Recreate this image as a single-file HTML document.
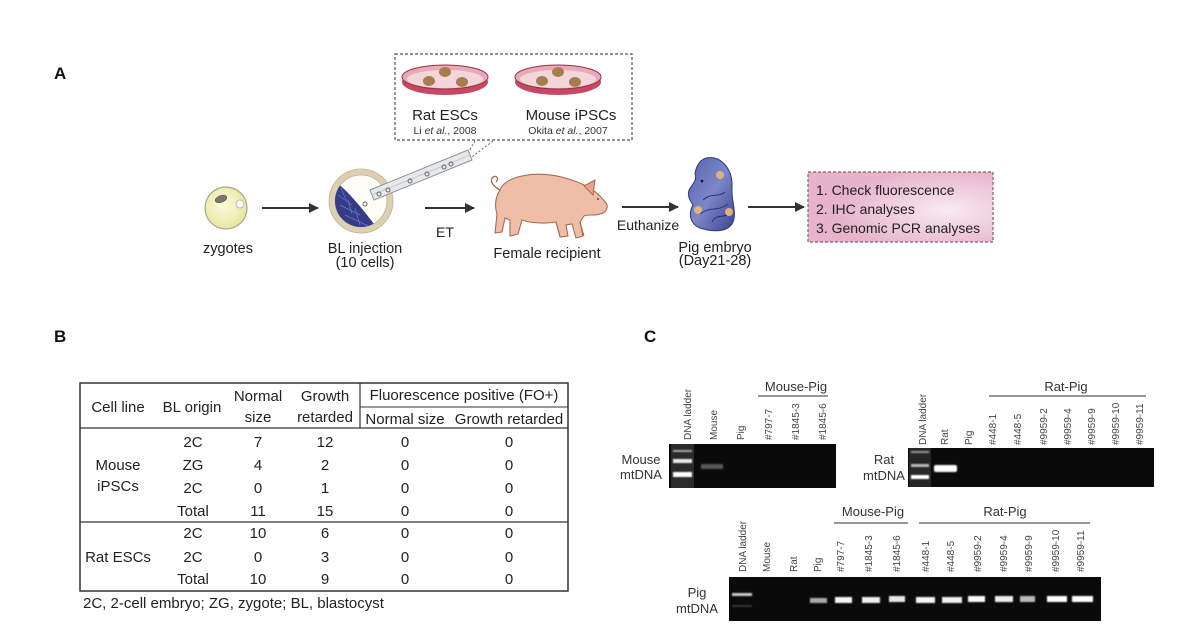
<!DOCTYPE html>
<html><head><meta charset="utf-8"><style>
html,body{margin:0;padding:0;background:#fff;}
svg{display:block;}
text{font-family:"Liberation Sans",Arial,sans-serif;}
</style></head><body>
<svg width="1200" height="625" viewBox="0 0 1200 625" xmlns="http://www.w3.org/2000/svg">
<defs>
<marker id="ah" markerWidth="10" markerHeight="10" refX="9" refY="5" orient="auto" markerUnits="userSpaceOnUse">
<path d="M0,0 L10,5 L0,10 Z" fill="#333"/></marker>
<radialGradient id="zyg" cx="45%" cy="45%" r="60%"><stop offset="0" stop-color="#fbfbdc"/><stop offset="1" stop-color="#e6e59c"/></radialGradient>
<linearGradient id="emb" x1="0" y1="0" x2="1" y2="1"><stop offset="0" stop-color="#5562b0"/><stop offset="0.5" stop-color="#7c86c8"/><stop offset="1" stop-color="#3a4590"/></linearGradient>
<radialGradient id="pink" cx="75%" cy="55%" r="60%"><stop offset="0" stop-color="#f8eaf1"/><stop offset="1" stop-color="#e6b3cb"/></radialGradient>
<filter id="bl" x="-30%" y="-80%" width="160%" height="260%"><feGaussianBlur stdDeviation="0.8"/></filter>
</defs>

<!-- Panel labels -->
<text x="54" y="79" font-size="17" font-weight="bold" fill="#111">A</text>
<text x="54" y="342" font-size="17" font-weight="bold" fill="#111">B</text>
<text x="644" y="342" font-size="17" font-weight="bold" fill="#111">C</text>

<!-- ===== Panel A ===== -->
<!-- dashed box with dishes -->
<rect x="395" y="54" width="237" height="86" fill="#fff" stroke="#555" stroke-width="1.2" stroke-dasharray="3,2"/>
<g>
<ellipse cx="445" cy="82" rx="43" ry="13" fill="#c44a64"/>
<ellipse cx="445" cy="77" rx="43" ry="12" fill="#e7aab6" stroke="#9c2e48" stroke-width="1"/>
<ellipse cx="445" cy="79" rx="38" ry="9" fill="#f2d6db"/>
<ellipse cx="429" cy="81" rx="6" ry="5" fill="#a67e4e"/>
<ellipse cx="445" cy="72" rx="6" ry="5" fill="#a67e4e"/>
<ellipse cx="462" cy="82" rx="6" ry="5" fill="#a67e4e"/>
</g>
<g>
<ellipse cx="558" cy="82" rx="43" ry="13" fill="#c44a64"/>
<ellipse cx="558" cy="77" rx="43" ry="12" fill="#e7aab6" stroke="#9c2e48" stroke-width="1"/>
<ellipse cx="558" cy="79" rx="38" ry="9" fill="#f2d6db"/>
<ellipse cx="542" cy="81" rx="6" ry="5" fill="#a67e4e"/>
<ellipse cx="558" cy="72" rx="6" ry="5" fill="#a67e4e"/>
<ellipse cx="575" cy="82" rx="6" ry="5" fill="#a67e4e"/>
</g>
<text x="445" y="120" font-size="15" text-anchor="middle" fill="#222">Rat ESCs</text>
<text x="445" y="134" font-size="10.5" text-anchor="middle" fill="#333">Li <tspan font-style="italic">et al.</tspan>, 2008</text>
<text x="571" y="120" font-size="15" text-anchor="middle" fill="#222">Mouse iPSCs</text>
<text x="568" y="134" font-size="10.5" text-anchor="middle" fill="#333">Okita <tspan font-style="italic">et al.</tspan>, 2007</text>
<line x1="475" y1="141" x2="466" y2="156" stroke="#666" stroke-width="1" stroke-dasharray="2,2"/>
<line x1="493" y1="141" x2="469" y2="159" stroke="#666" stroke-width="1" stroke-dasharray="2,2"/>

<!-- zygote -->
<circle cx="226" cy="208" r="21" fill="url(#zyg)" stroke="#a8a888" stroke-width="1.2"/>
<ellipse cx="221" cy="199" rx="6" ry="3.3" transform="rotate(-20 221 199)" fill="#7a7a6a" stroke="#555" stroke-width="0.6"/>
<circle cx="240" cy="204" r="4" fill="#fff" stroke="#aaa" stroke-width="0.8"/>
<text x="228" y="253" font-size="14.5" text-anchor="middle" fill="#222">zygotes</text>
<line x1="262" y1="208" x2="318" y2="208" stroke="#333" stroke-width="2" marker-end="url(#ah)"/>

<!-- blastocyst -->
<circle cx="361" cy="201" r="29" fill="#fdfcf6" stroke="#dccfb2" stroke-width="6"/>
<circle cx="361" cy="201" r="32" fill="none" stroke="#bfb294" stroke-width="0.8"/>
<circle cx="361" cy="201" r="26" fill="none" stroke="#bfb294" stroke-width="0.8"/>
<clipPath id="icm"><circle cx="361" cy="201" r="26"/></clipPath>
<path d="M333,180 C345,188 360,205 380,232 L330,232 Z" fill="#323c88" clip-path="url(#icm)"/>
<g clip-path="url(#icm)" stroke="#6d78c0" stroke-width="0.7" fill="none">
<path d="M338,195 L352,205 M340,205 L360,215 M345,215 L368,226 M341,188 L346,200 M348,200 L352,214 M355,208 L360,225"/>
</g>
<!-- pipette -->
<polygon points="370,190 468,150 472,160 374,200" fill="#e6e9ec" stroke="#8a9098" stroke-width="1"/>
<line x1="372" y1="195" x2="470" y2="155" stroke="#c7ccd2" stroke-width="1"/>
<circle cx="379" cy="194" r="2" fill="none" stroke="#666" stroke-width="1"/>
<circle cx="388" cy="190" r="2" fill="none" stroke="#666" stroke-width="1"/>
<circle cx="410" cy="181" r="2" fill="none" stroke="#666" stroke-width="1"/>
<circle cx="427" cy="174" r="2" fill="none" stroke="#666" stroke-width="1"/>
<circle cx="444" cy="167" r="2" fill="none" stroke="#666" stroke-width="1"/>
<circle cx="451" cy="164" r="2" fill="none" stroke="#666" stroke-width="1"/>
<circle cx="365" cy="204" r="2" fill="none" stroke="#666" stroke-width="1"/>
<text x="365" y="253" font-size="14.5" text-anchor="middle" fill="#222">BL injection</text>
<text x="365" y="267" font-size="14.5" text-anchor="middle" fill="#222">(10 cells)</text>

<line x1="425" y1="208" x2="474" y2="208" stroke="#333" stroke-width="2" marker-end="url(#ah)"/>
<text x="445" y="237" font-size="14" text-anchor="middle" fill="#222">ET</text>

<!-- pig -->
<path d="M500,190 C505,175 540,170 565,178 C580,182 592,188 600,196 L606,203 C609,207 606,213 600,214 C594,216 588,214 584,216 L580,222 L583,236 L576,238 L572,224 L566,225 L568,236 L560,237 L556,222 C545,224 530,223 522,220 L518,234 L510,236 L510,220 L505,218 L502,232 L495,233 L497,214 C494,205 496,196 500,190 Z" fill="#efbea6" stroke="#a86a50" stroke-width="1.1"/>
<path d="M500,190 C493,186 489,181 493,177 C497,175 499,179 496,182" fill="none" stroke="#a86a50" stroke-width="1.3"/>
<path d="M584,186 L595,180 L593,195 Z" fill="#e4a58c" stroke="#a86a50" stroke-width="1"/>
<circle cx="598" cy="199" r="1" fill="#543"/>
<path d="M580,222 L584,236 M556,222 L560,236" stroke="#a86a50" fill="none"/>
<text x="547" y="258" font-size="14.5" text-anchor="middle" fill="#222">Female recipient</text>

<line x1="622" y1="207" x2="678" y2="207" stroke="#333" stroke-width="2" marker-end="url(#ah)"/>
<text x="648" y="230" font-size="14" text-anchor="middle" fill="#222">Euthanize</text>

<!-- embryo -->
<path d="M706,158 C722,155 733,170 732,188 C731,200 737,212 733,222 C728,233 712,232 700,228 C690,224 688,214 693,205 C689,199 686,193 691,187 C694,182 697,180 695,174 C696,166 700,160 706,158 Z" fill="url(#emb)" stroke="#2e3878" stroke-width="1"/>
<path d="M703,200 C712,192 718,198 725,192 M700,214 C710,206 718,212 728,204 M712,222 C716,214 722,218 730,214" fill="none" stroke="#2a3170" stroke-width="1"/>
<circle cx="702" cy="181" r="1.3" fill="#111"/>
<circle cx="720" cy="175" r="4" fill="#e2b07e"/>
<circle cx="698" cy="210" r="4" fill="#e2b07e"/>
<circle cx="729" cy="212" r="4" fill="#e2b07e"/>
<text x="715" y="252" font-size="14.5" text-anchor="middle" fill="#222">Pig embryo</text>
<text x="715" y="265" font-size="14.5" text-anchor="middle" fill="#222">(Day21-28)</text>

<line x1="748" y1="207" x2="804" y2="207" stroke="#333" stroke-width="2" marker-end="url(#ah)"/>
<rect x="808" y="172" width="185" height="70" fill="url(#pink)" stroke="#8a5a75" stroke-width="1.2" stroke-dasharray="3,2"/>
<text x="816" y="195" font-size="14" fill="#222">1. Check fluorescence</text>
<text x="816" y="214" font-size="14" fill="#222">2. IHC analyses</text>
<text x="816" y="233" font-size="14" fill="#222">3. Genomic PCR analyses</text>

<!-- ===== Panel B table ===== -->
<g stroke="#333" fill="none">
<rect x="80" y="383" width="488" height="208" stroke-width="1.5"/>
<line x1="80" y1="428" x2="568" y2="428" stroke-width="1.3"/>
<line x1="360" y1="383" x2="360" y2="428" stroke-width="1.2"/>
<line x1="360" y1="407" x2="568" y2="407" stroke-width="1"/>
<line x1="80" y1="522" x2="568" y2="522" stroke-width="1.3"/>
</g>
<g font-size="15" fill="#222" text-anchor="middle">
<text x="118" y="412">Cell line</text>
<text x="192" y="412">BL origin</text>
<text x="258" y="401">Normal</text><text x="258" y="422">size</text>
<text x="325" y="401">Growth</text><text x="325" y="422">retarded</text>
<text x="464" y="400">Fluorescence positive (FO+)</text>
<text x="405" y="424">Normal size</text>
<text x="509" y="424">Growth retarded</text>
<text x="118" y="470">Mouse</text><text x="118" y="491">iPSCs</text>
<text x="118" y="562">Rat ESCs</text>
<text x="193" y="447">2C</text><text x="193" y="470">ZG</text><text x="193" y="493">2C</text><text x="193" y="516">Total</text>
<text x="193" y="538">2C</text><text x="193" y="562">2C</text><text x="193" y="584">Total</text>
<text x="258" y="447">7</text><text x="258" y="470">4</text><text x="258" y="493">0</text><text x="258" y="516">11</text>
<text x="258" y="538">10</text><text x="258" y="562">0</text><text x="258" y="584">10</text>
<text x="325" y="447">12</text><text x="325" y="470">2</text><text x="325" y="493">1</text><text x="325" y="516">15</text>
<text x="325" y="538">6</text><text x="325" y="562">3</text><text x="325" y="584">9</text>
<text x="405" y="447">0</text><text x="405" y="470">0</text><text x="405" y="493">0</text><text x="405" y="516">0</text>
<text x="405" y="538">0</text><text x="405" y="562">0</text><text x="405" y="584">0</text>
<text x="509" y="447">0</text><text x="509" y="470">0</text><text x="509" y="493">0</text><text x="509" y="516">0</text>
<text x="509" y="538">0</text><text x="509" y="562">0</text><text x="509" y="584">0</text>
</g>
<text x="83" y="608" font-size="15" fill="#222">2C, 2-cell embryo; ZG, zygote; BL, blastocyst</text>

<!-- ===== Panel C gels ===== -->
<!-- Gel 1 -->
<text x="796" y="391" font-size="13" text-anchor="middle" fill="#333">Mouse-Pig</text>
<line x1="758" y1="396" x2="828" y2="396" stroke="#777" stroke-width="1.5"/>
<g font-size="10" fill="#444">
<text transform="translate(691,440) rotate(-90)">DNA ladder</text>
<text transform="translate(717,440) rotate(-90)">Mouse</text>
<text transform="translate(744,440) rotate(-90)">Pig</text>
<text transform="translate(772,440) rotate(-90)">#797-7</text>
<text transform="translate(799,440) rotate(-90)">#1845-3</text>
<text transform="translate(826,440) rotate(-90)">#1845-6</text>
</g>
<text x="641" y="464" font-size="13" text-anchor="middle" fill="#333">Mouse</text>
<text x="641" y="479" font-size="13" text-anchor="middle" fill="#333">mtDNA</text>
<rect x="669" y="444" width="167" height="44" fill="#0a0a0a"/>
<rect x="671" y="444" width="23" height="44" fill="#2a2a2a"/>
<rect x="673" y="450" width="19" height="2" fill="#aaa" filter="url(#bl)"/>
<rect x="673" y="459" width="19" height="4" fill="#eee" filter="url(#bl)"/>
<rect x="673" y="472" width="19" height="5" fill="#fff" filter="url(#bl)"/>
<rect x="701" y="464" width="22" height="5" fill="#555" filter="url(#bl)"/>

<!-- Gel 2 -->
<text x="1066" y="391" font-size="13" text-anchor="middle" fill="#333">Rat-Pig</text>
<line x1="989" y1="396" x2="1146" y2="396" stroke="#777" stroke-width="1.5"/>
<g font-size="10" fill="#444">
<text transform="translate(926,445) rotate(-90)">DNA ladder</text>
<text transform="translate(948,445) rotate(-90)">Rat</text>
<text transform="translate(972,445) rotate(-90)">Pig</text>
<text transform="translate(996,445) rotate(-90)">#448-1</text>
<text transform="translate(1021,445) rotate(-90)">#448-5</text>
<text transform="translate(1047,445) rotate(-90)">#9959-2</text>
<text transform="translate(1071,445) rotate(-90)">#9959-4</text>
<text transform="translate(1095,445) rotate(-90)">#9959-9</text>
<text transform="translate(1119,445) rotate(-90)">#9959-10</text>
<text transform="translate(1143,445) rotate(-90)">#9959-11</text>
</g>
<text x="884" y="464" font-size="13" text-anchor="middle" fill="#333">Rat</text>
<text x="884" y="480" font-size="13" text-anchor="middle" fill="#333">mtDNA</text>
<rect x="908" y="448" width="246" height="39" fill="#0a0a0a"/>
<rect x="909" y="448" width="22" height="39" fill="#262626"/>
<rect x="911" y="451" width="18" height="2" fill="#999" filter="url(#bl)"/>
<rect x="911" y="464" width="18" height="3" fill="#bbb" filter="url(#bl)"/>
<rect x="911" y="475" width="18" height="4" fill="#fff" filter="url(#bl)"/>
<rect x="934" y="465" width="23" height="7" rx="2" fill="#fff" filter="url(#bl)"/>

<!-- Gel 3 -->
<text x="873" y="516" font-size="13" text-anchor="middle" fill="#333">Mouse-Pig</text>
<line x1="834" y1="523" x2="908" y2="523" stroke="#777" stroke-width="1.5"/>
<text x="1005" y="516" font-size="13" text-anchor="middle" fill="#333">Rat-Pig</text>
<line x1="919" y1="523" x2="1090" y2="523" stroke="#777" stroke-width="1.5"/>
<g font-size="10" fill="#444">
<text transform="translate(746,572) rotate(-90)">DNA ladder</text>
<text transform="translate(770,572) rotate(-90)">Mouse</text>
<text transform="translate(797,572) rotate(-90)">Rat</text>
<text transform="translate(821,572) rotate(-90)">Pig</text>
<text transform="translate(844,572) rotate(-90)">#797-7</text>
<text transform="translate(872,572) rotate(-90)">#1845-3</text>
<text transform="translate(900,572) rotate(-90)">#1845-6</text>
<text transform="translate(929,572) rotate(-90)">#448-1</text>
<text transform="translate(954,572) rotate(-90)">#448-5</text>
<text transform="translate(981,572) rotate(-90)">#9959-2</text>
<text transform="translate(1007,572) rotate(-90)">#9959-4</text>
<text transform="translate(1032,572) rotate(-90)">#9959-9</text>
<text transform="translate(1059,572) rotate(-90)">#9959-10</text>
<text transform="translate(1084,572) rotate(-90)">#9959-11</text>
</g>
<text x="697" y="597" font-size="13" text-anchor="middle" fill="#333">Pig</text>
<text x="697" y="613" font-size="13" text-anchor="middle" fill="#333">mtDNA</text>
<rect x="729" y="577" width="372" height="44" fill="#0a0a0a"/>
<rect x="732" y="593" width="20" height="3" fill="#ccc" filter="url(#bl)"/>
<rect x="732" y="605" width="20" height="2" fill="#333" filter="url(#bl)"/>
<g filter="url(#bl)">
<rect x="810" y="598" width="17" height="5" fill="#aaa"/>
<rect x="835" y="597" width="17" height="6" fill="#f4f4f4"/>
<rect x="862" y="597" width="18" height="6" fill="#eee"/>
<rect x="889" y="596" width="16" height="6" fill="#e8e8e8"/>
<rect x="916" y="597" width="19" height="6" fill="#f4f4f4"/>
<rect x="942" y="597" width="20" height="6" fill="#eee"/>
<rect x="968" y="596" width="17" height="6" fill="#fafafa"/>
<rect x="995" y="596" width="18" height="6" fill="#eee"/>
<rect x="1020" y="596" width="15" height="6" fill="#bbb"/>
<rect x="1047" y="596" width="20" height="6" fill="#fff"/>
<rect x="1072" y="596" width="21" height="6" fill="#fff"/>
</g>
</svg>
</body></html>
